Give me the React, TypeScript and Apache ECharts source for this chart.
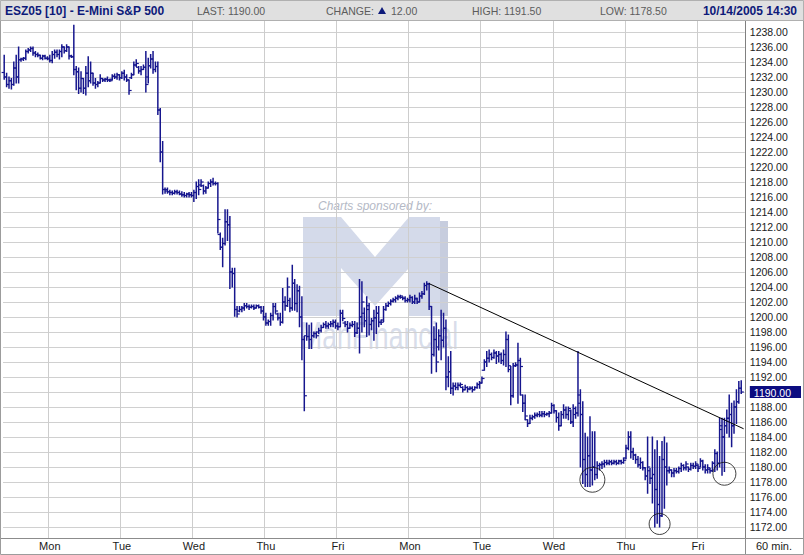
import React, { useEffect, useRef } from 'react';
import * as echarts from 'echarts';

// ---- sessions / categories (60-min bars, ~30 slots per session) ----
const sessions = ['Sun 10/02', 'Mon 10/03', 'Tue 10/04', 'Wed 10/05', 'Thu 10/06', 'Fri 10/07', 'Mon 10/10', 'Tue 10/11', 'Wed 10/12', 'Thu 10/13', 'Fri 10/14'];
const PRE_BARS = 19;
const SLOTS_PER_SESSION = 30;
const TOTAL_SLOTS = 309;

// ---- OHLC per session: [open, high, low, close] ----
const sun1002 = [
  [1232.6, 1234.9, 1231.7, 1232.0], [1232.0, 1232.5, 1230.7, 1231.0], [1231.0, 1232.0, 1230.5, 1231.5], [1231.5, 1231.8, 1230.4, 1231.0],
  [1231.0, 1234.0, 1230.9, 1233.2], [1233.2, 1234.9, 1231.2, 1232.0], [1232.0, 1236.0, 1231.2, 1234.3], [1234.3, 1234.5, 1234.1, 1234.4],
  [1234.4, 1234.6, 1234.2, 1234.5], [1234.5, 1235.6, 1234.3, 1235.4], [1235.4, 1235.8, 1235.2, 1235.6], [1235.6, 1236.0, 1235.4, 1235.8],
  [1235.8, 1236.0, 1234.9, 1235.2], [1235.2, 1235.4, 1234.7, 1235.0], [1235.0, 1235.2, 1234.7, 1234.9], [1234.9, 1234.9, 1234.4, 1234.5],
  [1234.5, 1234.9, 1234.3, 1234.8], [1234.8, 1234.9, 1234.4, 1234.5], [1234.5, 1234.7, 1234.3, 1234.4],
];
const mon1003 = [
  [1234.5, 1234.9, 1234.0, 1234.2], [1234.2, 1235.4, 1233.9, 1235.0], [1235.0, 1235.6, 1234.5, 1235.3], [1235.3, 1235.6, 1234.7, 1235.0],
  [1235.0, 1235.6, 1234.4, 1235.4], [1235.4, 1236.3, 1234.7, 1236.0], [1236.0, 1236.0, 1235.2, 1235.5], [1235.5, 1236.3, 1235.4, 1236.0],
  [1236.0, 1236.0, 1234.4, 1234.8], [1234.8, 1234.9, 1234.6, 1234.7], [1234.7, 1238.9, 1232.3, 1233.0], [1233.0, 1233.4, 1230.3, 1232.7],
  [1232.7, 1233.2, 1229.8, 1230.5], [1230.5, 1232.7, 1230.0, 1231.8], [1231.8, 1231.8, 1229.8, 1230.5], [1230.5, 1233.4, 1229.6, 1232.5],
  [1232.5, 1234.7, 1230.7, 1231.5], [1231.5, 1234.0, 1231.2, 1232.5], [1232.5, 1232.5, 1230.9, 1231.2], [1231.2, 1231.8, 1230.5, 1231.0],
  [1231.0, 1231.4, 1230.7, 1231.2], [1231.2, 1232.3, 1231.2, 1231.8], [1231.8, 1231.8, 1231.4, 1231.6], [1231.6, 1231.8, 1231.4, 1231.7],
  [1231.7, 1232.0, 1231.4, 1231.6], [1231.6, 1231.7, 1231.4, 1231.5], [1231.7, 1232.3, 1231.6, 1232.1], [1232.1, 1232.4, 1231.8, 1232.0],
  [1232.0, 1232.5, 1231.7, 1232.3], [1232.3, 1232.3, 1231.6, 1231.9],
];
const tue1004 = [
  [1231.9, 1232.7, 1231.8, 1232.5], [1232.5, 1232.9, 1231.6, 1232.0], [1232.0, 1232.3, 1231.4, 1231.6], [1231.6, 1231.6, 1229.7, 1230.2],
  [1231.9, 1232.5, 1231.8, 1232.3], [1232.3, 1234.0, 1232.3, 1233.6], [1233.6, 1234.3, 1233.4, 1233.8], [1233.3, 1233.4, 1232.5, 1232.8],
  [1232.8, 1233.4, 1232.3, 1233.0], [1233.0, 1233.6, 1233.0, 1233.3], [1233.3, 1235.4, 1230.0, 1231.0], [1232.0, 1234.5, 1231.2, 1233.5],
  [1233.5, 1235.0, 1233.2, 1234.4], [1234.4, 1235.4, 1232.5, 1233.0], [1233.0, 1234.0, 1232.7, 1233.4], [1233.4, 1234.0, 1227.0, 1227.6],
  [1227.6, 1227.8, 1220.7, 1222.0], [1222.0, 1223.4, 1216.4, 1217.0], [1217.0, 1217.2, 1216.5, 1216.8], [1217.0, 1217.2, 1216.5, 1216.7],
  [1216.7, 1216.9, 1216.3, 1216.6], [1216.6, 1216.8, 1216.3, 1216.5], [1216.5, 1216.9, 1216.4, 1216.7], [1216.7, 1216.9, 1216.4, 1216.6],
  [1216.6, 1216.8, 1216.3, 1216.4], [1216.4, 1216.7, 1216.1, 1216.3], [1216.3, 1216.6, 1216.0, 1216.2], [1216.2, 1216.5, 1216.0, 1216.4],
  [1216.4, 1216.6, 1216.0, 1216.3], [1216.3, 1216.6, 1216.0, 1216.2],
];
const wed1005 = [
  [1216.2, 1216.9, 1215.4, 1216.6], [1216.6, 1218.0, 1215.8, 1217.4], [1217.4, 1218.3, 1216.3, 1217.0], [1217.6, 1218.3, 1217.4, 1218.0],
  [1217.5, 1217.6, 1216.4, 1216.8], [1216.8, 1217.4, 1216.5, 1217.2], [1217.2, 1218.0, 1217.2, 1217.8], [1217.8, 1218.3, 1217.4, 1218.0],
  [1218.0, 1218.5, 1217.6, 1217.8], [1217.8, 1218.0, 1217.6, 1217.8], [1217.8, 1217.9, 1211.2, 1213.0], [1211.0, 1211.2, 1209.0, 1209.3],
  [1209.3, 1210.5, 1206.7, 1209.8], [1209.8, 1214.3, 1209.6, 1212.7], [1212.7, 1214.3, 1210.2, 1212.3], [1212.3, 1213.4, 1203.8, 1206.0],
  [1206.0, 1206.5, 1204.0, 1205.8], [1205.8, 1206.5, 1200.1, 1201.0], [1201.0, 1201.4, 1200.0, 1200.4], [1200.8, 1201.4, 1200.7, 1201.0],
  [1201.0, 1201.4, 1200.7, 1201.2], [1201.2, 1201.8, 1200.9, 1201.5], [1201.5, 1201.8, 1201.2, 1201.4], [1201.4, 1201.6, 1201.0, 1201.3],
  [1201.3, 1201.6, 1201.2, 1201.4], [1201.4, 1201.6, 1201.0, 1201.2], [1201.2, 1201.6, 1201.2, 1201.5], [1201.5, 1201.6, 1201.2, 1201.3],
  [1201.3, 1201.4, 1200.5, 1200.8], [1200.8, 1201.4, 1199.6, 1200.0],
];
const thu1006 = [
  [1200.0, 1200.5, 1198.9, 1199.2], [1199.2, 1199.6, 1198.9, 1199.4], [1199.4, 1200.5, 1198.9, 1200.2], [1200.2, 1201.8, 1199.6, 1201.4],
  [1201.4, 1201.8, 1200.5, 1200.8], [1200.4, 1200.5, 1199.6, 1199.9], [1199.9, 1200.5, 1198.9, 1199.3], [1199.3, 1203.8, 1199.2, 1202.0],
  [1202.0, 1202.7, 1200.9, 1201.5], [1201.5, 1205.2, 1201.4, 1204.0], [1202.2, 1202.5, 1200.7, 1201.2], [1201.2, 1206.9, 1200.9, 1204.5],
  [1204.5, 1205.0, 1200.9, 1201.8], [1201.8, 1204.3, 1200.7, 1203.5], [1203.5, 1204.1, 1198.7, 1200.0], [1200.0, 1202.7, 1194.3, 1197.0],
  [1197.0, 1197.4, 1187.5, 1189.5], [1197.5, 1199.2, 1196.9, 1197.4], [1197.4, 1198.9, 1195.8, 1197.0], [1197.0, 1199.2, 1195.8, 1197.5],
  [1197.5, 1198.0, 1197.3, 1197.8], [1197.8, 1198.0, 1197.2, 1197.5], [1198.0, 1198.5, 1197.8, 1198.2], [1198.2, 1198.9, 1198.0, 1198.6],
  [1198.6, 1199.2, 1198.6, 1199.0], [1199.0, 1199.4, 1198.5, 1198.8], [1198.8, 1199.2, 1198.5, 1199.0], [1199.0, 1199.4, 1198.7, 1199.1],
  [1199.1, 1199.6, 1198.7, 1199.3], [1199.3, 1199.6, 1198.5, 1198.8],
];
const fri1007 = [
  [1198.8, 1199.2, 1198.3, 1198.7], [1198.7, 1200.9, 1198.7, 1200.5], [1200.5, 1200.9, 1199.5, 1199.8], [1199.2, 1199.4, 1198.7, 1199.0],
  [1199.0, 1199.4, 1198.0, 1198.5], [1198.5, 1199.2, 1198.5, 1198.9], [1198.9, 1199.4, 1198.7, 1199.0], [1199.0, 1199.4, 1197.4, 1197.9],
  [1197.9, 1199.2, 1197.8, 1198.5], [1198.5, 1205.0, 1195.2, 1200.0], [1200.0, 1204.7, 1198.0, 1202.0], [1200.5, 1201.2, 1198.7, 1199.5],
  [1199.5, 1202.7, 1197.4, 1201.5], [1201.0, 1201.8, 1197.6, 1199.0], [1199.0, 1199.8, 1198.3, 1199.5], [1199.5, 1200.9, 1196.9, 1199.9],
  [1199.9, 1201.4, 1197.8, 1200.5], [1200.5, 1201.4, 1198.7, 1199.3], [1199.3, 1199.6, 1199.0, 1199.3], [1199.6, 1201.4, 1199.4, 1201.0],
  [1201.0, 1201.8, 1200.9, 1201.5], [1201.5, 1202.0, 1201.4, 1201.8], [1201.8, 1202.3, 1201.6, 1202.1], [1202.1, 1202.5, 1202.0, 1202.3],
  [1202.3, 1202.7, 1202.0, 1202.5], [1202.5, 1202.9, 1202.3, 1202.7], [1202.7, 1202.9, 1202.5, 1202.8], [1202.6, 1202.7, 1202.3, 1202.5],
  [1202.5, 1202.7, 1202.0, 1202.2], [1202.2, 1202.5, 1202.0, 1202.3],
];
const mon1010 = [
  [1202.3, 1202.9, 1202.0, 1202.6], [1202.6, 1202.7, 1201.8, 1202.0], [1202.0, 1202.9, 1201.8, 1202.5], [1202.4, 1202.5, 1201.8, 1202.0],
  [1202.0, 1203.2, 1202.0, 1202.8], [1202.8, 1203.4, 1202.5, 1203.1], [1203.1, 1204.5, 1203.0, 1204.2], [1204.2, 1204.7, 1203.6, 1204.4],
  [1204.4, 1204.5, 1201.0, 1201.4], [1201.4, 1201.4, 1192.5, 1195.0], [1195.0, 1198.7, 1194.8, 1197.0], [1197.0, 1199.2, 1192.7, 1194.0],
  [1196.0, 1198.3, 1195.6, 1197.5], [1197.5, 1200.9, 1194.3, 1196.9], [1196.9, 1200.5, 1196.0, 1198.5], [1198.5, 1199.6, 1190.3, 1192.0],
  [1192.0, 1194.7, 1190.7, 1192.7], [1192.7, 1195.4, 1189.8, 1190.5], [1190.5, 1191.2, 1189.6, 1190.8], [1190.8, 1191.2, 1190.3, 1190.6],
  [1190.6, 1191.2, 1190.3, 1190.9], [1190.9, 1191.2, 1190.7, 1191.0], [1190.6, 1190.7, 1190.0, 1190.3], [1190.3, 1190.9, 1190.3, 1190.6],
  [1190.6, 1190.7, 1190.0, 1190.4], [1190.4, 1190.7, 1190.3, 1190.5], [1190.5, 1190.7, 1190.0, 1190.3], [1190.3, 1190.7, 1190.3, 1190.6],
  [1190.6, 1191.2, 1190.5, 1191.0], [1191.0, 1191.4, 1190.5, 1191.2],
];
const tue1011 = [
  [1191.2, 1192.0, 1191.2, 1191.8], [1192.9, 1194.3, 1192.9, 1194.0], [1194.0, 1195.4, 1193.4, 1194.5], [1194.5, 1195.6, 1194.0, 1195.0],
  [1195.0, 1195.2, 1194.3, 1194.6], [1194.6, 1195.6, 1194.5, 1195.2], [1195.2, 1195.4, 1193.8, 1194.8], [1194.8, 1195.4, 1194.0, 1195.0],
  [1195.0, 1195.2, 1193.8, 1194.2], [1194.2, 1195.6, 1193.6, 1195.0], [1195.0, 1198.0, 1193.4, 1197.0], [1197.0, 1197.6, 1192.7, 1193.5],
  [1193.0, 1193.4, 1188.3, 1189.5], [1189.5, 1193.8, 1189.3, 1193.5], [1193.5, 1193.9, 1193.4, 1193.6], [1193.6, 1196.5, 1188.5, 1194.2],
  [1194.2, 1194.5, 1189.6, 1193.4], [1189.6, 1189.6, 1187.4, 1188.5], [1188.5, 1189.6, 1186.3, 1186.8], [1186.3, 1186.3, 1185.4, 1185.8],
  [1185.8, 1186.9, 1185.8, 1186.5], [1186.5, 1186.9, 1186.3, 1186.7], [1186.7, 1187.2, 1186.5, 1186.9], [1186.9, 1187.2, 1186.7, 1187.0],
  [1187.0, 1187.4, 1186.7, 1186.9], [1186.9, 1187.4, 1186.7, 1187.1], [1187.1, 1187.4, 1186.7, 1187.0], [1187.0, 1187.2, 1186.9, 1187.1],
  [1187.1, 1187.4, 1186.7, 1187.2], [1187.2, 1188.5, 1187.2, 1188.2],
];
const wed1012 = [
  [1188.2, 1188.3, 1187.2, 1187.5], [1187.5, 1187.5, 1186.0, 1186.6], [1186.6, 1187.2, 1184.9, 1185.5], [1185.5, 1187.4, 1185.5, 1187.0],
  [1187.0, 1188.3, 1186.5, 1187.6], [1187.6, 1188.0, 1186.5, 1187.0], [1187.0, 1188.0, 1186.3, 1187.8], [1187.5, 1187.6, 1185.8, 1186.0],
  [1186.0, 1188.3, 1185.4, 1187.8], [1187.0, 1188.0, 1186.5, 1187.2], [1187.2, 1195.4, 1186.8, 1188.5], [1189.6, 1190.3, 1180.0, 1187.0],
  [1187.0, 1188.7, 1177.8, 1181.0], [1181.0, 1184.5, 1177.4, 1179.0], [1179.0, 1184.0, 1177.4, 1181.5], [1181.5, 1186.7, 1177.4, 1179.6],
  [1179.6, 1184.7, 1177.6, 1180.0], [1180.0, 1184.7, 1178.3, 1179.0], [1179.0, 1180.7, 1178.5, 1180.2], [1180.2, 1180.5, 1179.6, 1180.3],
  [1180.3, 1180.7, 1179.8, 1180.4], [1180.4, 1180.9, 1180.0, 1180.6], [1180.6, 1180.9, 1180.3, 1180.5], [1180.5, 1180.9, 1180.3, 1180.7],
  [1180.7, 1180.9, 1180.3, 1180.5], [1180.5, 1180.9, 1180.4, 1180.7], [1180.7, 1180.9, 1180.3, 1180.5], [1180.5, 1180.9, 1180.4, 1180.8],
  [1180.8, 1180.9, 1180.4, 1180.6], [1180.6, 1181.2, 1180.5, 1180.9],
];
const thu1013 = [
  [1181.2, 1182.9, 1181.1, 1182.5], [1182.5, 1184.7, 1182.3, 1184.0], [1184.0, 1184.7, 1181.2, 1182.0], [1182.0, 1182.5, 1181.0, 1181.6],
  [1181.6, 1181.7, 1180.5, 1181.0], [1181.0, 1181.4, 1180.0, 1180.3], [1180.3, 1181.2, 1179.8, 1180.6], [1180.6, 1180.7, 1179.6, 1179.9],
  [1179.9, 1179.9, 1178.3, 1178.8], [1178.8, 1184.0, 1176.5, 1180.0], [1179.5, 1179.8, 1177.8, 1178.5], [1178.5, 1184.0, 1175.2, 1179.0],
  [1179.0, 1182.3, 1172.0, 1177.0], [1177.0, 1183.5, 1172.5, 1175.0], [1175.0, 1181.4, 1172.0, 1173.5], [1173.5, 1183.4, 1173.4, 1181.0],
  [1181.0, 1184.0, 1174.5, 1180.0], [1180.0, 1183.2, 1177.6, 1179.5], [1179.5, 1180.0, 1179.2, 1179.6], [1179.6, 1179.6, 1178.7, 1179.2],
  [1179.2, 1179.8, 1178.7, 1179.5], [1179.5, 1179.8, 1179.2, 1179.4], [1179.4, 1180.0, 1179.2, 1179.8], [1179.8, 1180.5, 1179.4, 1180.2],
  [1180.2, 1180.3, 1179.6, 1179.9], [1179.9, 1180.7, 1179.6, 1180.4], [1180.0, 1180.0, 1179.4, 1179.7], [1179.7, 1180.5, 1179.6, 1180.2],
  [1180.2, 1180.5, 1179.8, 1180.1], [1180.1, 1180.7, 1179.8, 1180.4],
];
const fri1014 = [
  [1180.2, 1180.3, 1179.4, 1179.8], [1180.0, 1181.1, 1180.0, 1180.8], [1180.8, 1180.9, 1179.6, 1180.0], [1180.0, 1180.3, 1179.2, 1179.6],
  [1179.6, 1180.3, 1179.2, 1179.9], [1179.7, 1179.8, 1179.2, 1179.5], [1179.5, 1180.7, 1179.4, 1180.5], [1180.5, 1182.3, 1179.4, 1181.8],
  [1181.8, 1182.0, 1179.6, 1180.5], [1180.5, 1186.5, 1180.0, 1185.5], [1185.0, 1186.5, 1178.9, 1184.0], [1184.0, 1186.5, 1179.4, 1185.5],
  [1185.5, 1187.6, 1184.5, 1186.5], [1186.5, 1189.6, 1184.0, 1187.0], [1187.0, 1188.5, 1182.7, 1185.5], [1185.5, 1188.8, 1184.5, 1188.0],
  [1188.0, 1190.3, 1185.8, 1188.7], [1188.7, 1191.4, 1188.5, 1190.5], [1190.5, 1191.5, 1189.8, 1190.0],
];

// ---- annotations (in data coordinates: bar index, price) ----
const trendLine = [[177, 1204.45], [308, 1185.1]];
const pivotLows = [[245, 1178.3], [273, 1172.4], [300, 1179.1]];

// ---- axis ----
const yMin = 1170;
const yMax = 1240;
const yStep = 2;
const lastPrice = 1190;

// ---- header texts ----
const title = 'ESZ05 [10] - E-Mini S&P 500';
const lastText = 'LAST: 1190.00';
const changeLabel = 'CHANGE:';
const changeValue = '12.00';
const highText = 'HIGH: 1191.50';
const lowText = 'LOW: 1178.50';
const stamp = '10/14/2005 14:30';
const periodText = '60 min.';

const circleDiameters = [25, 21, 23];

export default function App() {
  const ref = useRef<HTMLDivElement>(null);

  useEffect(() => {
    const el = ref.current;
    if (!el) return;
    const chart = echarts.init(el, null, { renderer: 'svg' });

    const categories = Array.from({ length: TOTAL_SLOTS }, (_, i) => {
      if (i < PRE_BARS) return `${sessions[0]} #${i + 11}`;
      const d = Math.min(1 + Math.floor((i - PRE_BARS) / SLOTS_PER_SESSION), sessions.length - 1);
      const s = (i - PRE_BARS) % SLOTS_PER_SESSION;
      return `${sessions[d]} #${s}`;
    });

    const bars = [sun1002, mon1003, tue1004, wed1005, thu1006, fri1007, mon1010, tue1011, wed1012, thu1013, fri1014]
      .flat()
      .map((b, i) => [i, b[0], b[1], b[2], b[3]]);

    const isDayStart = (idx: number) => idx >= PRE_BARS && (idx - PRE_BARS) % SLOTS_PER_SESSION === 0;
    const barColor = '#16168e';
    const FONT = 'Liberation Sans, Arial, sans-serif';

    const option: any = {
      animation: false,
      backgroundColor: '#ffffff',
      grid: { left: 3, right: 59, top: 17, bottom: 13, containLabel: false },
      xAxis: [
        {
          type: 'category',
          data: categories,
          boundaryGap: true,
          position: 'bottom',
          z: 4,
          axisLine: { show: false },
          axisTick: { show: false },
          splitLine: { show: false },
          axisLabel: {
            interval: (idx: number) => isDayStart(idx),
            formatter: (v: string) => v.split(' ')[0],
            fontSize: 11,
            fontFamily: FONT,
            color: '#1a1a1a',
            margin: 4,
            verticalAlign: 'middle',
          },
        },
        {
          type: 'category',
          data: categories,
          boundaryGap: true,
          position: 'top',
          z: 1,
          axisLine: { show: false },
          axisTick: { show: false },
          axisLabel: { show: false },
          splitLine: {
            show: true,
            interval: (idx: number) => isDayStart(idx),
            lineStyle: { color: '#cdcdcd', width: 1 },
          },
        },
      ],
      yAxis: {
        type: 'value',
        position: 'right',
        min: yMin,
        max: yMax,
        interval: yStep,
        z: 1,
        axisLine: { show: true, lineStyle: { color: '#808080', width: 1 } },
        axisTick: { show: false },
        axisLabel: {
          showMinLabel: false,
          showMaxLabel: false,
          margin: 5,
          fontSize: 10.5,
          fontFamily: FONT,
          color: '#1a1a1a',
          formatter: (v: number) => (v === lastPrice ? `{hl|${v.toFixed(2)}}` : v.toFixed(2)),
          rich: {
            hl: {
              backgroundColor: '#0c0c80',
              color: '#ffffff',
              fontSize: 10.5,
              fontFamily: FONT,
              padding: [1, 10, 0, 4],
              lineHeight: 12,
            },
          },
        },
        splitLine: {
          show: true,
          showMinLine: false,
          showMaxLine: false,
          lineStyle: { color: '#d0d0d0', width: 1 },
        },
      },
      series: [
        {
          type: 'custom',
          name: 'ESZ05',
          xAxisIndex: 0,
          yAxisIndex: 0,
          z: 3,
          data: bars,
          encode: { x: 0, y: [1, 2, 3, 4] },
          renderItem: (params: any, api: any) => {
            const i = api.value(0);
            const hi = api.coord([i, api.value(2)]);
            const lo = api.coord([i, api.value(3)]);
            const yo = api.coord([i, api.value(1)])[1];
            const yc = api.coord([i, api.value(4)])[1];
            const x = hi[0];
            const st = { stroke: barColor, lineWidth: 1.5 };
            return {
              type: 'group',
              children: [
                { type: 'line', shape: { x1: x, y1: hi[1] - 0.5, x2: x, y2: lo[1] + 0.5 }, style: st },
                { type: 'line', shape: { x1: x - 2.6, y1: yo, x2: x, y2: yo }, style: { stroke: barColor, lineWidth: 1.2 } },
                { type: 'line', shape: { x1: x, y1: yc, x2: x + 2.6, y2: yc }, style: { stroke: barColor, lineWidth: 1.2 } },
              ],
            };
          },
        },
        {
          type: 'line',
          name: 'trend',
          xAxisIndex: 0,
          yAxisIndex: 0,
          z: 3,
          data: trendLine,
          symbol: 'none',
          lineStyle: { color: '#000000', width: 1 },
        },
        {
          type: 'scatter',
          name: 'pivots',
          xAxisIndex: 0,
          yAxisIndex: 0,
          z: 3,
          data: pivotLows,
          symbol: 'circle',
          symbolSize: (_v: any, p: any) => circleDiameters[p.dataIndex],
          itemStyle: { color: 'rgba(0,0,0,0)', borderColor: '#111111', borderWidth: 1 },
        },
      ],
      graphic: [
        // watermark (sponsor logo)
        {
          type: 'polygon',
          z: 0,
          shape: {
            points: [
              [303, 217], [341, 217], [375, 257], [409, 217], [440, 217], [440, 316],
              [409, 316], [409, 268], [375, 306], [341, 268], [341, 316], [303, 316],
            ],
          },
          style: { fill: '#cdd4e6', opacity: 0.85 },
        },
        { type: 'rect', z: 0, shape: { x: 440, y: 221, width: 8, height: 95 }, style: { fill: '#b9c1d6', opacity: 0.8 } },
        {
          type: 'text', z: 0, x: 318, y: 206,
          style: { text: 'Charts sponsored by:', fill: '#b4b9c6', fontSize: 12, fontStyle: 'italic', fontFamily: FONT, textVerticalAlign: 'middle' },
        },
        {
          type: 'text', z: 0, x: 300, y: 336, scaleX: 0.7,
          style: { text: 'ManFinancial', fill: '#d3d9e8', fontSize: 38, fontFamily: FONT, textVerticalAlign: 'middle', opacity: 0.9 },
        },
        // bottom band cover + borders
        { type: 'rect', z: 2, shape: { x: 0, y: 539, width: 745, height: 16 }, style: { fill: '#ffffff' } },
        { type: 'line', z: 5, shape: { x1: 0, y1: 538.5, x2: 804, y2: 538.5 }, style: { stroke: '#8c8c8c', lineWidth: 1 } },
        { type: 'line', z: 5, shape: { x1: 745.5, y1: 538, x2: 745.5, y2: 555 }, style: { stroke: '#8c8c8c', lineWidth: 1 } },
        {
          type: 'text', z: 5, x: 774, y: 546,
          style: { text: periodText, fill: '#1a1a1a', fontSize: 11, fontFamily: FONT, textAlign: 'center', textVerticalAlign: 'middle' },
        },
        { type: 'rect', z: 6, shape: { x: 0.5, y: 0.5, width: 803, height: 554 }, style: { fill: 'none', stroke: '#9c9c9c', lineWidth: 1 } },
        // header bar
        { type: 'rect', z: 100, shape: { x: 0, y: 0, width: 804, height: 20 }, style: { fill: '#e0e0e0' } },
        { type: 'line', z: 101, shape: { x1: 0, y1: 20.5, x2: 804, y2: 20.5 }, style: { stroke: '#a4a4a4', lineWidth: 1 } },
        { type: 'rect', z: 101, shape: { x: 0.5, y: 0.5, width: 803, height: 20 }, style: { fill: 'none', stroke: '#b0b0b0', lineWidth: 1 } },
        {
          type: 'text', z: 102, x: 5, y: 10.5,
          style: { text: title, fill: '#0d1a7a', fontSize: 12, fontWeight: 'bold', fontFamily: FONT, textVerticalAlign: 'middle' },
        },
        {
          type: 'text', z: 102, x: 197, y: 10.5,
          style: { text: lastText, fill: '#5c5c5c', fontSize: 10.5, fontFamily: FONT, textVerticalAlign: 'middle' },
        },
        {
          type: 'text', z: 102, x: 326, y: 10.5,
          style: { text: changeLabel, fill: '#5c5c5c', fontSize: 10.5, fontFamily: FONT, textVerticalAlign: 'middle' },
        },
        {
          type: 'polygon', z: 102,
          shape: { points: [[378, 14], [386, 14], [382, 7]] },
          style: { fill: '#0d1a7a' },
        },
        {
          type: 'text', z: 102, x: 391, y: 10.5,
          style: { text: changeValue, fill: '#5c5c5c', fontSize: 10.5, fontFamily: FONT, textVerticalAlign: 'middle' },
        },
        {
          type: 'text', z: 102, x: 472, y: 10.5,
          style: { text: highText, fill: '#5c5c5c', fontSize: 10.5, fontFamily: FONT, textVerticalAlign: 'middle' },
        },
        {
          type: 'text', z: 102, x: 600, y: 10.5,
          style: { text: lowText, fill: '#5c5c5c', fontSize: 10.5, fontFamily: FONT, textVerticalAlign: 'middle' },
        },
        {
          type: 'text', z: 102, x: 797, y: 10.5,
          style: { text: stamp, fill: '#0d1a7a', fontSize: 12, fontWeight: 'bold', fontFamily: FONT, textAlign: 'right', textVerticalAlign: 'middle' },
        },
      ],
    };

    chart.setOption(option);
    return () => chart.dispose();
  }, []);

  return (
    <div
      ref={ref}
      style={{ position: 'fixed', left: 0, top: 0, width: 804, height: 555, background: '#ffffff' }}
    />
  );
}
